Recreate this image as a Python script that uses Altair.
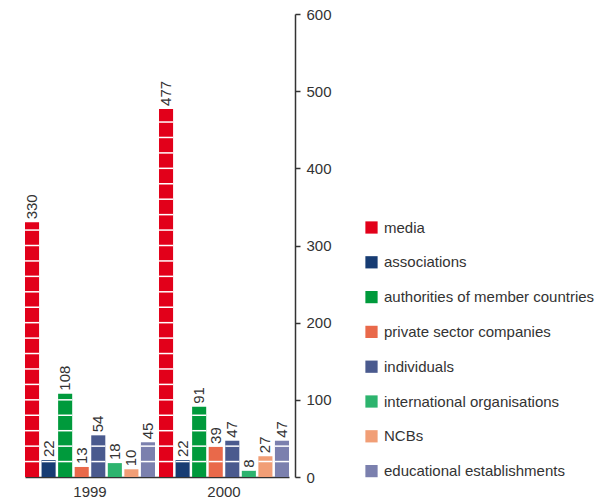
import altair as alt
import pandas as pd

years = ["1999", "2000"]
categories = [
    "media",
    "associations",
    "authorities of member countries",
    "private sector companies",
    "individuals",
    "international organisations",
    "NCBs",
    "educational establishments",
]
values_1999 = [330, 22, 108, 13, 54, 18, 10, 45]
values_2000 = [477, 22, 91, 39, 47, 8, 27, 47]
colors = ["#E2001A", "#173C73", "#009A3C", "#E9694A", "#4A5A8E", "#2DB46E", "#F19E76", "#7B80AE"]
y_ticks = [0, 100, 200, 300, 400, 500, 600]
stripe_step = 20

rows = []
for yr, vals in zip(years, [values_1999, values_2000]):
    for c, v in zip(categories, vals):
        rows.append({"year": yr, "category": c, "value": v})
df = pd.DataFrame(rows)

stripes = []
for r in rows:
    k = stripe_step
    while k < r["value"]:
        stripes.append({"year": r["year"], "category": r["category"], "s": k})
        k += stripe_step
sdf = pd.DataFrame(stripes)

FONT = "Liberation Sans"
TXT = "#333333"

x_enc = alt.X("year:N", sort=years,
              scale=alt.Scale(range=[12, 276], paddingInner=0.03, paddingOuter=0),
              axis=alt.Axis(title=None, labelAngle=0, ticks=False, labelPadding=7,
                            domainColor=TXT, domainWidth=1.5, labelFontSize=15,
                            labelColor=TXT, labelFont=FONT))
xoff = alt.XOffset("category:N", sort=categories,
                   scale=alt.Scale(paddingInner=0.15, paddingOuter=0))
y_scale = alt.Scale(domain=[0, 600], nice=False)

bars = alt.Chart(df).mark_bar().encode(
    x=x_enc,
    xOffset=xoff,
    y=alt.Y("value:Q", scale=y_scale,
            axis=alt.Axis(title=None, orient="right", values=y_ticks, grid=False,
                          domainColor=TXT, domainWidth=1.5, tickColor=TXT, tickWidth=1.5,
                          tickSize=5, labelPadding=6, labelFontSize=15, labelColor=TXT,
                          labelFont=FONT)),
    color=alt.Color("category:N", sort=categories,
                    scale=alt.Scale(domain=categories, range=colors),
                    legend=alt.Legend(title=None, orient="none", legendX=351, legendY=206,
                                      symbolType="square", symbolSize=150,
                                      symbolStrokeWidth=0, labelFontSize=15,
                                      labelColor=TXT, labelFont=FONT, rowPadding=18.8,
                                      labelOffset=5, labelLimit=300)),
)

stripe_marks = alt.Chart(sdf).mark_tick(color="white", thickness=1.5, orient="horizontal", size=14, opacity=1).encode(
    x=alt.X("year:N", sort=years),
    xOffset=alt.XOffset("category:N", sort=categories),
    y=alt.Y("s:Q", scale=y_scale),
)

labels = alt.Chart(df).mark_text(angle=270, align="left", baseline="middle", dx=3,
                                 fontSize=15, color=TXT, font=FONT).encode(
    x=alt.X("year:N", sort=years),
    xOffset=alt.XOffset("category:N", sort=categories),
    y=alt.Y("value:Q", scale=y_scale),
    text=alt.Text("value:Q"),
)

chart = (bars + stripe_marks + labels).properties(
    width=282, height=463,
    padding={"left": 13, "top": 14, "right": 321, "bottom": 26},
    autosize=alt.AutoSizeParams(type="none"),
    background="white",
).configure_view(stroke=None)

chart.save("out.html", embed_options={"renderer": "svg", "actions": False})
